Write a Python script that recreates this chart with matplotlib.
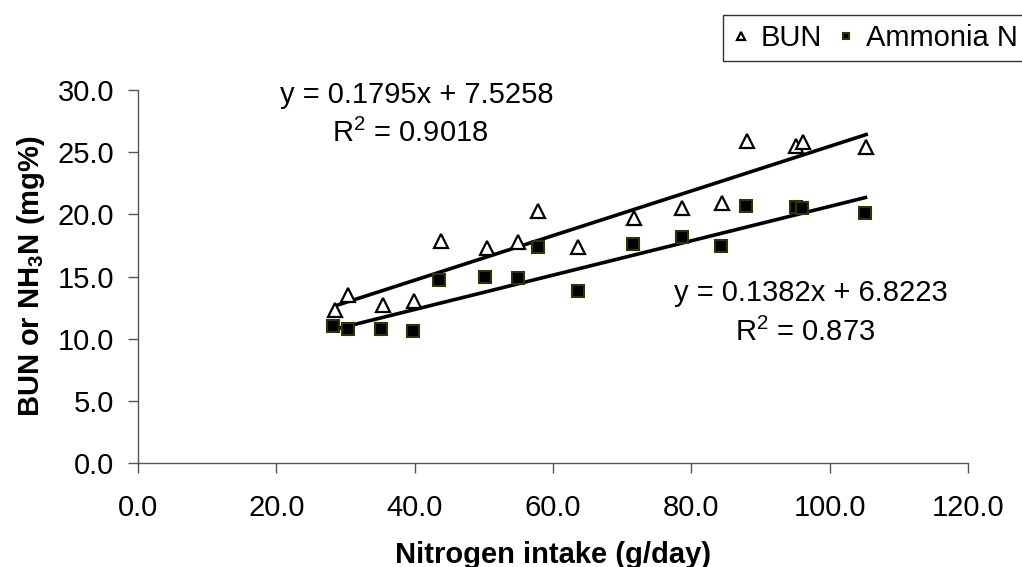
import matplotlib
matplotlib.use("Agg")
import matplotlib.pyplot as plt
import numpy as np

plt.rcParams['font.family'] = ['Liberation Sans', 'DejaVu Sans']
plt.rcParams['mathtext.fontset'] = 'custom'
plt.rcParams['mathtext.rm'] = 'Liberation Sans'
plt.rcParams['mathtext.bf'] = 'Liberation Sans:bold'

# data
bun_x = [28.5, 30.4, 35.4, 39.9, 43.8, 50.4, 55.0, 57.9, 63.7, 71.7, 78.7, 84.5, 88.1, 95.2, 96.1, 105.3]
bun_y = [12.3, 13.5, 12.7, 13.0, 17.9, 17.3, 17.8, 20.3, 17.4, 19.7, 20.5, 20.9, 25.9, 25.5, 25.8, 25.4]
nh3_x = [28.2, 30.3, 35.2, 39.8, 43.6, 50.2, 54.9, 57.8, 63.6, 71.6, 78.6, 84.3, 87.9, 95.1, 96.0, 105.2]
nh3_y = [11.0, 10.8, 10.8, 10.6, 14.7, 15.0, 14.9, 17.4, 13.8, 17.6, 18.2, 17.5, 20.7, 20.6, 20.5, 20.1]

# trend line coefficients as printed on the chart
bun_fit = (0.1795, 7.5258, 0.9018)
nh3_fit = (0.1382, 6.8223, 0.873)

x_ticks = [0, 20, 40, 60, 80, 100, 120]
y_ticks = [0, 5, 10, 15, 20, 25, 30]

FS = 21

fig = plt.figure(figsize=(10.22, 5.67), dpi=100)
ax = fig.add_axes([0.135, 0.1834, 0.812, 0.6576])

# trend lines
for xs, (m, b, r2) in [(bun_x, bun_fit), (nh3_x, nh3_fit)]:
    xl = np.array([min(xs), max(xs)])
    ax.plot(xl, m * xl + b, color='black', lw=2.6, zorder=2)

ax.plot(bun_x, bun_y, ls='none', marker='^', ms=9.5, mfc='white', mec='black',
        mew=1.6, label='BUN', zorder=3)
ax.plot(nh3_x, nh3_y, ls='none', marker='s', ms=8, mfc='black', mec='#333300',
        mew=1.5, label='Ammonia N', zorder=3)

ax.set_xlim(0, 120)
ax.set_ylim(0, 30)
ax.set_xticks(x_ticks)
ax.set_yticks(y_ticks)
ax.set_xticklabels([f"{v:.1f}" for v in x_ticks])
ax.set_yticklabels([f"{v:.1f}" for v in y_ticks])
ax.tick_params(axis='both', direction='out', length=7, width=1, color='#555555',
               labelsize=FS)
ax.tick_params(axis='x', pad=15)
ax.tick_params(axis='y', pad=10)
for s in ['top', 'right']:
    ax.spines[s].set_visible(False)
for s in ['left', 'bottom']:
    ax.spines[s].set_color('#555555')
    ax.spines[s].set_linewidth(1)

ax.set_xlabel('Nitrogen intake (g/day)', fontsize=FS, fontweight='bold', labelpad=14)
ax.set_ylabel(r'BUN or NH$_\mathbf{3}$N (mg%)', fontsize=FS, fontweight='bold', labelpad=8)

# equation labels
ax.text(0.336, 0.987, f"y = {bun_fit[0]}x + {bun_fit[1]}", transform=ax.transAxes,
        ha='center', va='center', fontsize=FS)
ax.text(0.328, 0.885, f"R$^2$ = {bun_fit[2]}", transform=ax.transAxes,
        ha='center', va='center', fontsize=FS)
ax.text(0.811, 0.456, f"y = {nh3_fit[0]}x + {nh3_fit[1]}", transform=ax.transAxes,
        ha='center', va='center', fontsize=FS)
ax.text(0.804, 0.351, f"R$^2$ = {nh3_fit[2]}", transform=ax.transAxes,
        ha='center', va='center', fontsize=FS)

leg = fig.legend(loc='upper left', bbox_to_anchor=(723 / 1022, 1 - 15 / 567), ncol=2,
                 fontsize=FS, frameon=True, fancybox=False, markerscale=0.55,
                 handlelength=0.6, handletextpad=0.4, columnspacing=0.5,
                 borderpad=0.3, borderaxespad=0)
leg.get_frame().set_edgecolor('black')
leg.get_frame().set_linewidth(1)

fig.savefig('out.png', dpi=100)
